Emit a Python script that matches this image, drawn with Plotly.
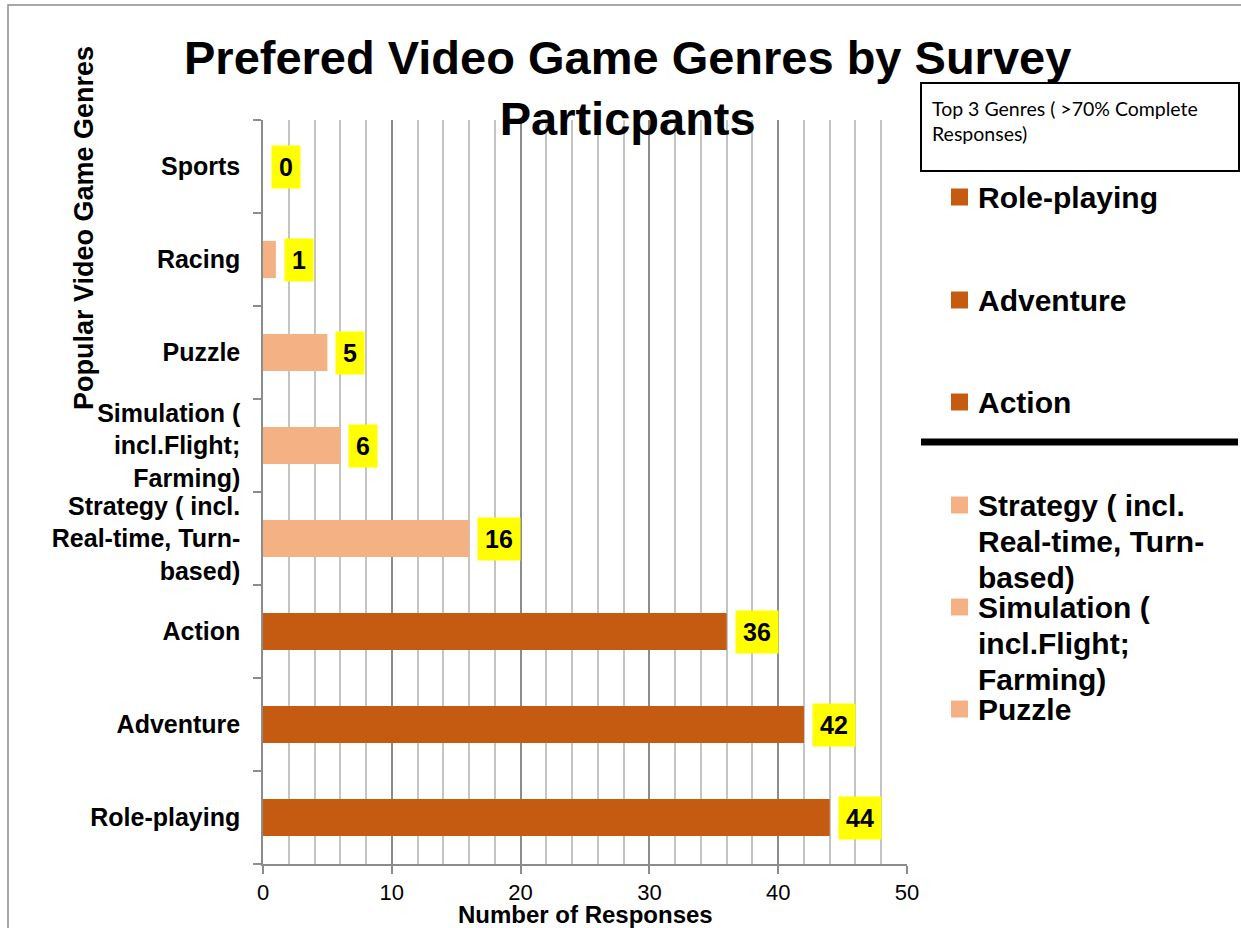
import plotly.graph_objects as go

# Survey results: number of responses per preferred genre
genres = [
    "Role-playing",
    "Adventure",
    "Action",
    "Strategy ( incl.<br>Real-time, Turn-<br>based)",
    "Simulation (<br>incl.Flight;<br>Farming)",
    "Puzzle",
    "Racing",
    "Sports",
]
responses = [44, 42, 36, 16, 6, 5, 1, 0]
is_top3 = [True, True, True, False, False, False, False, False]

top3_genres = ["Role-playing", "Adventure", "Action"]
other_legend = [
    "Strategy ( incl.<br>Real-time, Turn-<br>based)",
    "Simulation (<br>incl.Flight;<br>Farming)",
    "Puzzle",
]
x_ticks = [0, 10, 20, 30, 40, 50]

DARK = "#C55A11"
LIGHT = "#F4B183"
FONT = "Liberation Sans, Arial, sans-serif"

W, H = 1241, 928
ML, MR, MT, MB = 263, 334, 120, 64
PW, PH = W - ML - MR, H - MT - MB


def px(x):
    return (x - ML) / PW


def py(y):
    return (H - MB - y) / PH


bar_colors = [DARK if t else LIGHT for t in is_top3]

fig = go.Figure()
fig.add_trace(go.Bar(
    x=responses, y=genres, orientation="h", width=0.4,
    marker=dict(color=bar_colors, line=dict(width=0)),
    showlegend=False, hoverinfo="x+y",
))

annotations = []
# value labels on yellow tags
for g, v in zip(genres, responses):
    annotations.append(dict(
        x=v, y=g, xref="x", yref="y", text=f"<b>{v}</b>", showarrow=False,
        xanchor="left", yanchor="middle", xshift=8,
        font=dict(family=FONT, size=25, color="black"),
        bgcolor="#FFFF00", borderpad=7,
    ))

# title
annotations.append(dict(
    x=px(627), y=py(88), xref="paper", yref="paper",
    text="<b>Prefered Video Game Genres by Survey<br>Particpants</b>",
    showarrow=False, xanchor="center", yanchor="middle",
    font=dict(family=FONT, size=47, color="black"),
))
# axis titles
annotations.append(dict(
    x=px(84), y=py(228), xref="paper", yref="paper",
    text="<b>Popular Video Game Genres</b>", textangle=-90,
    showarrow=False, xanchor="center", yanchor="middle",
    font=dict(family=FONT, size=27, color="black"),
))
annotations.append(dict(
    x=px(585), y=py(914), xref="paper", yref="paper",
    text="<b>Number of Responses</b>",
    showarrow=False, xanchor="center", yanchor="middle",
    font=dict(family=FONT, size=24, color="black"),
))

# legend header box text
annotations.append(dict(
    x=px(930), y=py(121), xref="paper", yref="paper",
    text="Top 3 Genres ( >70% Complete<br>Responses)",
    showarrow=False, xanchor="left", yanchor="middle", align="left",
    font=dict(family="Lato, sans-serif", size=19.5, color="black"),
))

shapes = []
# outer chart border
shapes.append(dict(type="rect", xref="paper", yref="paper",
                   x0=px(8), y0=py(5), x1=px(1300), y1=py(1000),
                   line=dict(color="#8C8C8C", width=1.5), layer="below"))
# legend header box
shapes.append(dict(type="rect", xref="paper", yref="paper",
                   x0=px(921), y0=py(83), x1=px(1239), y1=py(171),
                   line=dict(color="black", width=2), fillcolor="white"))
# separator between top genres and the rest
shapes.append(dict(type="line", xref="paper", yref="paper",
                   x0=px(921), y0=py(442), x1=px(1238), y1=py(442),
                   line=dict(color="black", width=7)))

# legend entries: marker square + label lines (first line centred on marker)
LINE_PITCH = 36
legend_rows = [(n, DARK, c) for n, c in zip(top3_genres, [197, 300, 402])] + \
              [(n, LIGHT, c) for n, c in zip(other_legend, [505, 607, 709])]
for name, col, cy in legend_rows:
    shapes.append(dict(type="rect", xref="paper", yref="paper",
                       x0=px(951), x1=px(968), y0=py(cy - 8.5), y1=py(cy + 8.5),
                       line=dict(width=0), fillcolor=col))
    for i, line in enumerate(name.split("<br>")):
        annotations.append(dict(
            x=px(976), y=py(cy + i * LINE_PITCH), xref="paper", yref="paper",
            text=f"<b>{line}</b>", showarrow=False,
            xanchor="left", yanchor="middle", align="left",
            font=dict(family=FONT, size=30, color="black"),
        ))

fig.update_layout(
    width=W, height=H,
    margin=dict(l=ML, r=MR, t=MT, b=MB),
    paper_bgcolor="white", plot_bgcolor="white",
    bargap=0.6,
    annotations=annotations, shapes=shapes,
    showlegend=False,
    font=dict(family=FONT, color="black"),
)
fig.update_xaxes(
    range=[0, 50], tickvals=x_ticks, ticktext=[str(t) for t in x_ticks],
    showgrid=True, gridcolor="#8C8C8C", gridwidth=1.5,
    minor=dict(dtick=2, showgrid=True, gridcolor="#C4C4C4", gridwidth=1.5),
    showline=True, linecolor="#8C8C8C", linewidth=1.5,
    ticks="outside", ticklen=8, tickcolor="#8C8C8C", tickwidth=1.5,
    tickfont=dict(family=FONT, size=22, color="black"),
    zeroline=False,
)
fig.update_yaxes(
    range=[-0.5, 7.5], categoryorder="array", categoryarray=genres,
    showgrid=False, showline=True, linecolor="#8C8C8C", linewidth=1.5,
    ticks="outside", ticklen=8, tickcolor="#8C8C8C", tickwidth=1.5,
    tickson="boundaries", ticklabelstandoff=16,
    tickfont=dict(family=FONT, size=25, color="black", weight="bold"),
)

fig.write_html("out.html")
